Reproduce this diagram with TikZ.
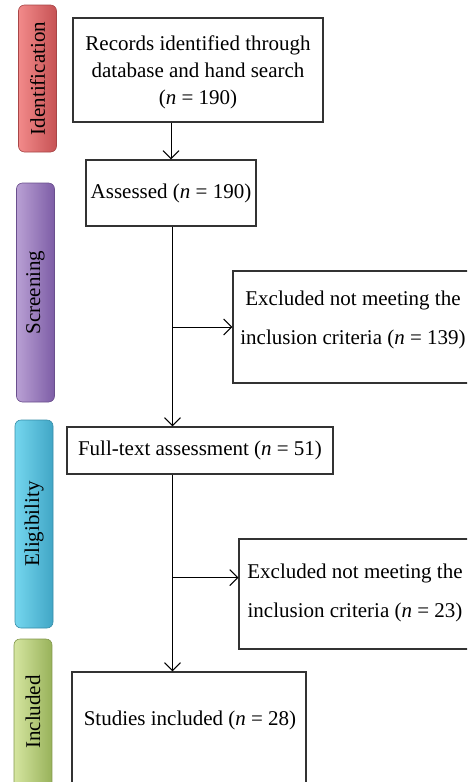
\documentclass[tikz,border=0pt]{standalone}
\usepackage{fontspec}
\setmainfont{Liberation Serif}
\usetikzlibrary{arrows.meta,calc}
\definecolor{redL}{HTML}{F28A8A}
\definecolor{redR}{HTML}{C65254}
\definecolor{purL}{HTML}{B9A0D4}
\definecolor{purR}{HTML}{7D5DA6}
\definecolor{cyaL}{HTML}{74D6EE}
\definecolor{cyaR}{HTML}{41A6C6}
\definecolor{grnL}{HTML}{D5E5A0}
\definecolor{grnR}{HTML}{98B25A}
\tikzset{
  stagebar/.style={rectangle, rounded corners=6pt, inner sep=0pt, draw=#1R!85!black, line width=0.6pt,
    left color=#1L, right color=#1R, minimum width=38pt},
  stagetext/.style={rotate=90, font=\fontsize{21}{24}\selectfont},
  flowbox/.style={rectangle, draw=black!80, line width=1.2pt, inner sep=0pt, align=center,
    font=\fontsize{21}{27}\selectfont},
  sidebox/.style={rectangle, draw=black!80, line width=1.2pt, inner sep=0pt},
  sidetext/.style={align=center, inner sep=0pt, font=\fontsize{21}{39}\selectfont},
  arr/.style={line width=1pt, -{Straight Barb[length=8pt,width=16pt,line width=1pt]}},
}
\begin{document}
\begin{tikzpicture}[x=1pt,y=-1pt]
\useasboundingbox (0,0) rectangle (467,782);
\begin{scope}
\clip (0,0) rectangle (467,782);
% stage bars
\node[stagebar=red, minimum height=147pt] (sid) at (37.5,78.5) {};
\node[stagetext] (tid) at (sid.center) {Identification};
\node[stagebar=pur, minimum height=219pt] (ssc) at (35.5,292.5) {};
\node[stagetext] (tsc) at (ssc.center) {Screening};
\node[stagebar=cya, minimum height=208pt] (sel) at (34,524) {};
\node[stagetext] (tel) at (sel.center) {Eligibility};
\node[stagebar=grn, minimum height=170pt] (sin) at (33,724) {};
\node[stagetext] (tin) at (33,712) {Included};
% main boxes
\node[flowbox, minimum width=250pt, minimum height=104pt] (b1) at (198,70) {};
\node[flowbox, draw=none] (t1) at (198,72.5)
  {Records identified through\\database and hand search\\(\textit{n} = 190)};
\node[flowbox, minimum width=170pt, minimum height=66pt] (b2) at (171,193)
  {Assessed (\textit{n} = 190)};
\node[flowbox, minimum width=266pt, minimum height=47pt] (b3) at (200,450.5)
  {Full-text assessment (\textit{n} = 51)};
\node[flowbox, minimum width=234pt, minimum height=160pt] (b4) at (189,752) {};
\node[flowbox, draw=none] (t4) at (190,720) {Studies included (\textit{n} = 28)};
% side boxes
\node[sidebox, minimum width=240pt, minimum height=112pt] (r1) at (353,327) {};
\node[sidetext] (t2) at (353,320) {Excluded not meeting the\\inclusion criteria (\textit{n} = 139)};
\node[sidebox, minimum width=234pt, minimum height=110pt] (r2) at (356,594) {};
\node[sidetext] (t3) at (355,593) {Excluded not meeting the\\inclusion criteria (\textit{n} = 23)};
% connectors
\draw[arr] (b2.north |- b1.south) -- (b2.north);
\draw[arr] ($(b2.south)+(1.5,0)$) coordinate (v1) -- (v1 |- b3.north);
\coordinate (j1) at (v1 |- r1.west);
\draw[arr] (j1) -- (r1.west);
\draw[arr] (v1 |- b3.south) coordinate (v2) -- (v2 |- b4.north);
\coordinate (j2) at ($(v2)+(0,103)$);
\draw[arr] (j2) -- (j2 -| r2.west);
\end{scope}
\end{tikzpicture}
\end{document}
